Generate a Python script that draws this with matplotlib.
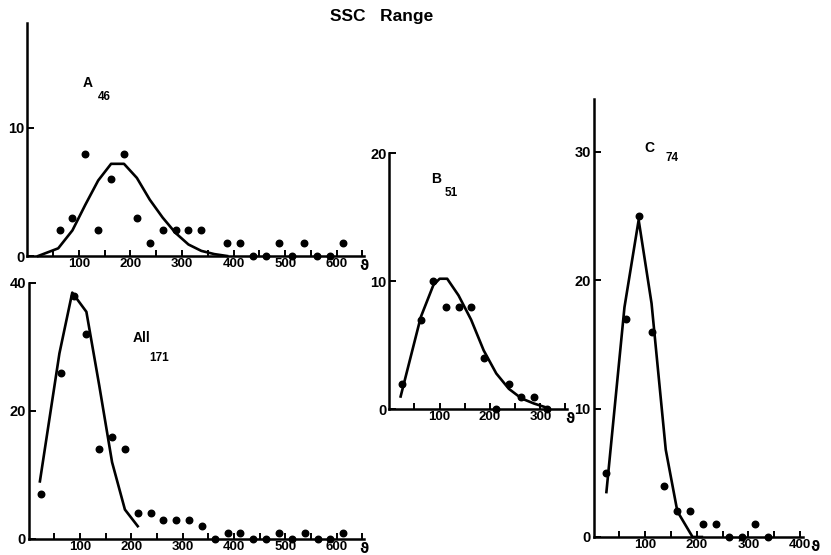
import numpy as np
import matplotlib
matplotlib.use("Agg")
import matplotlib.pyplot as plt
from matplotlib.ticker import FixedLocator

plt.rcParams['font.family'] = ['Liberation Sans', 'DejaVu Sans']
plt.rcParams['font.weight'] = 'bold'

# bin centres (first bin is 0-50, then 25-wide bins)
bins = [25, 62.5, 87.5, 112.5, 137.5, 162.5, 187.5, 212.5, 237.5, 262.5, 287.5,
        312.5, 337.5, 362.5, 387.5, 412.5, 437.5, 462.5, 487.5, 512.5, 537.5,
        562.5, 587.5, 612.5]

# A (46)
a_x = bins[1:13] + bins[14:]
a_y = [2, 3, 8, 2, 6, 8, 3, 1, 2, 2, 2, 2, 1, 1, 0, 0, 1, 0, 1, 0, 0, 1]
a_fit_x = [21, 60, 87.5, 112.5, 137.5, 162.5, 187.5, 212.5, 237.5, 262.5, 287.5,
           312.5, 337.5, 362.5, 387.5]
a_fit_y = [0, 0.6, 2.0, 4.0, 5.9, 7.2, 7.2, 6.1, 4.4, 3.0, 1.8, 0.9, 0.4, 0.15, 0]

# B (51)
b_x = bins[:12]
b_y = [2, 7, 10, 8, 8, 8, 4, 0, 2, 1, 1, 0]
b_fit_x = [22.5, 62.5, 87.5, 100, 115, 137.5, 162.5, 187.5, 212.5, 237.5, 262.5,
           287.5, 315]
b_fit_y = [1.0, 7.2, 9.7, 10.2, 10.2, 8.9, 7.0, 4.6, 2.8, 1.6, 0.85, 0.45, 0.1]

# C (74)
c_x = bins[:13]
c_y = [5, 17, 25, 16, 4, 2, 2, 1, 1, 0, 0, 1, 0]
c_fit_x = [25, 60, 87.5, 112.5, 140, 162.5, 192, 210]
c_fit_y = [3.5, 17.9, 24.7, 18.2, 6.8, 2.0, 0, 0]

# All (171)
all_x = bins
all_y = [7, 26, 38, 32, 14, 16, 14, 4, 4, 3, 3, 3, 2, 0, 1, 1, 0, 0, 1, 0, 1,
         0, 0, 1]
all_fit_x = [22, 60, 85, 112.5, 137.5, 162.5, 187.5, 212.5]
all_fit_y = [9, 29, 38.5, 35.5, 24, 12, 4.6, 2]

W, H = 831, 555
fig = plt.figure(figsize=(W / 100, H / 100), dpi=100)


def panel(x0, y0, x1, y1, xmax, xend, xlab_max, ymax, yticks, theta_dx):
    # pixel box -> figure fraction
    ax = fig.add_axes([x0 / W, 1 - y1 / H, (x1 - x0) / W, (y1 - y0) / H])
    ax.set_xlim(0, xmax)
    ax.set_ylim(0, ymax)
    for s in ['top', 'right']:
        ax.spines[s].set_visible(False)
    for s in ['left', 'bottom']:
        ax.spines[s].set_linewidth(1.8)
    ax.xaxis.set_major_locator(FixedLocator(np.arange(100, xlab_max + 1, 100)))
    ax.xaxis.set_minor_locator(FixedLocator(np.arange(50, xend + 1, 50)))
    ax.yaxis.set_major_locator(FixedLocator(yticks))
    ax.tick_params(axis='x', which='both', direction='in', length=4.5,
                   width=1.4, labelsize=9.5, pad=1.5)
    ax.tick_params(axis='y', direction='in', length=5, width=1.4,
                   labelsize=10.5, pad=2)
    ax.annotate('ϑ', xy=(xend, 0), xytext=(theta_dx, -2),
                textcoords='offset points', ha='center', va='top',
                fontsize=10, family=['DejaVu Sans'])
    return ax


def draw(ax, px, py, fx, fy):
    ax.plot(fx, fy, color='black', lw=1.9, solid_joinstyle='round', clip_on=False)
    ax.plot(px, py, 'o', color='black', ms=4.7, clip_on=False)


ax_a = panel(27.3, 23, 363.5, 256, 652, 650, 600, 18.2, [0, 10], 1)
draw(ax_a, a_x, a_y, a_fit_x, a_fit_y)
ax_a.text(118, 13.5, 'A', fontsize=10, ha='center', va='center')
ax_a.text(150, 12.4, '46', fontsize=8.5, ha='center', va='center')

ax_all = panel(28.6, 283, 363.5, 539, 652, 650, 600, 40, [0, 20, 40], 1)
draw(ax_all, all_x, all_y, all_fit_x, all_fit_y)
ax_all.text(220, 31.4, 'All', fontsize=10, ha='center', va='center')
ax_all.text(254, 28.3, '171', fontsize=8.5, ha='center', va='center')

ax_b = panel(389.3, 153.3, 566.5, 409.3, 352, 350, 300, 20, [0, 10, 20], 3)
draw(ax_b, b_x, b_y, b_fit_x, b_fit_y)
ax_b.text(94, 18.0, 'B', fontsize=10, ha='center', va='center')
ax_b.text(124, 16.9, '51', fontsize=8.5, ha='center', va='center')

ax_c = panel(593.5, 99.3, 802.5, 537, 405, 400, 400, 34.1, [0, 10, 20, 30], 11)
draw(ax_c, c_x, c_y, c_fit_x, c_fit_y)
ax_c.text(109, 30.3, 'C', fontsize=10, ha='center', va='center')
ax_c.text(152, 29.5, '74', fontsize=8.5, ha='center', va='center')

fig.text(382 / W, 1 - 17 / H, 'SSC   Range', fontsize=12.5, ha='center',
         va='center')

fig.savefig('out.png', dpi=100)
